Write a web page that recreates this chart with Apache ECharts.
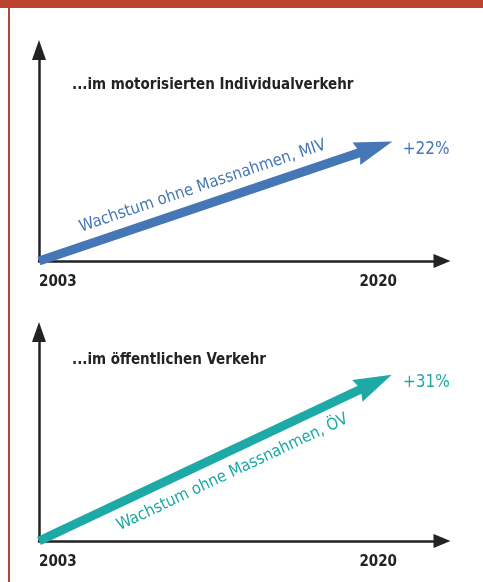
<!DOCTYPE html>
<html><head><meta charset="utf-8">
<script src="https://cdn.jsdelivr.net/npm/echarts@6/dist/echarts.min.js"></script>
<style>html,body{margin:0;padding:0;background:#fff}#c{width:483px;height:582px}</style>
</head><body><div id="c"></div>
<script>
const years = [2003, 2020];
const xTickLabels = [2003, 2020];
const mivGrowth = [0, 22];
const oevGrowth = [0, 31];
const panelTitles = ['...im motorisierten Individualverkehr', '...im öffentlichen Verkehr'];
const arrowLabels = ['Wachstum ohne Massnahmen, MIV', 'Wachstum ohne Massnahmen, ÖV'];

const FONT = "'Liberation Sans Narrow', 'DejaVu Sans Condensed', sans-serif";
const colors = ['#4576B5', '#1DA9A5'];
const axisColor = '#222';
// arrowhead: tip 15px ahead of the symbol centre (invisible point extends the box)
const HEAD = 'path://M0,8 L12,46 L0,42 L-12,46 Z M0,0 L0.01,0';

function pts(vals) { return years.map((y, i) => [y, vals[i]]); }

const grids = [
  {left: 39, right: 41, top: 50, bottom: 321},
  {left: 39, right: 41, top: 332, bottom: 41}
];

function xAx(i) {
  return {
    type: 'value', gridIndex: i, min: 2003, max: 2023.2,
    splitLine: {show: false}, axisTick: {show: false},
    axisLine: {onZero: false, symbol: ['none', 'triangle'], symbolSize: [14, 17],
      lineStyle: {color: axisColor, width: 2.5}},
    axisLabel: {customValues: xTickLabels, formatter: v => String(v), color: axisColor,
      fontFamily: FONT, fontWeight: 'bold', fontSize: 15, margin: 14,
      alignMinLabel: 'left', alignMaxLabel: 'center', showMinLabel: true, showMaxLabel: true}
  };
}
function yAx(i) {
  return {
    type: 'value', gridIndex: i, min: 0, max: 40.5,
    splitLine: {show: false}, axisTick: {show: false}, axisLabel: {show: false},
    axisLine: {onZero: false, symbol: ['none', 'triangle'], symbolSize: [14, 20],
      lineStyle: {color: axisColor, width: 2.5}}
  };
}
function ser(i, vals, dist, textPos, textDist) {
  const d = pts(vals);
  return {
    type: 'line', xAxisIndex: i, yAxisIndex: i, data: d, symbol: 'none', clip: true,
    lineStyle: {color: colors[i], width: 9, cap: 'butt'}, z: 3,
    markLine: {
      silent: true, animation: false, z: 5,
      symbol: ['none', HEAD], symbolSize: [24, 46],
      lineStyle: {color: colors[i], width: 0, type: 'solid'},
      label: {show: false},
      data: [
        [{coord: d[0]}, {coord: d[1], label: {show: true, position: 'end', distance: dist,
          formatter: '+' + vals[1] + '%', color: colors[i], fontFamily: FONT, fontSize: 17}}],
        [{coord: d[0], symbol: 'none'}, {coord: d[1], symbol: 'none', label: {show: true,
          position: textPos, distance: textDist,
          formatter: arrowLabels[i], color: colors[i], fontFamily: FONT, fontSize: 16.5}}]
      ]
    }
  };
}

const chart = echarts.init(document.getElementById('c'), null, {renderer: 'canvas'});
chart.setOption({
  animation: false,
  backgroundColor: '#fff',
  title: panelTitles.map((t, i) => ({text: t, left: 72, top: i === 0 ? 78 : 353, padding: 0,
    textStyle: {fontFamily: FONT, fontWeight: 'bold', fontSize: 15, color: axisColor}})),
  grid: grids,
  xAxis: [xAx(0), xAx(1)],
  yAxis: [yAx(0), yAx(1)],
  series: [
    ser(0, mivGrowth, [26, -8.5], 'insideMiddleTop', 10),
    ser(1, oevGrowth, [27.5, -2.5], 'insideEndBottom', [44, 12])
  ],
  graphic: [
    {type: 'rect', left: 0, top: 0, shape: {width: 483, height: 8}, style: {fill: '#BA4332'}},
    {type: 'rect', left: 8, top: 0, shape: {width: 2, height: 582}, style: {fill: '#BA4332'}}
  ]
});
</script></body></html>
